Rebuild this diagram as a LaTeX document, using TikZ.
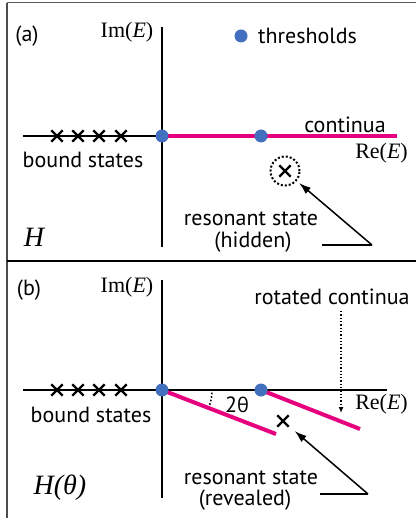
\documentclass[tikz,border=0pt]{standalone}
\usepackage{fontspec}
\newfontfamily\sansf{PT Sans}
\newfontfamily\grkf{Open Sans}
\newfontfamily\serf{Liberation Serif}
\usetikzlibrary{arrows.meta,shapes.misc}
\definecolor{cmag}{RGB}{230,0,126}
\definecolor{cblue}{RGB}{66,112,190}
\tikzset{
  axis/.style={line width=2.6pt,black},
  cont/.style={line width=4pt,cmag},
  thr/.style={circle,fill=cblue,inner sep=0pt,minimum size=13pt},
  xmark/.style={cross out,draw,line width=2.4pt,minimum size=9pt,inner sep=0pt},
  lab/.style={font=\sansf\fontsize{22}{24}\selectfont,inner sep=0pt},
  mlab/.style={font=\serf\fontsize{22}{24}\selectfont,inner sep=0pt},
  hlab/.style={font=\serf\itshape\fontsize{28}{30}\selectfont,inner sep=0pt},
  pointer/.style={line width=1.5pt,-{Latex[length=12pt,width=8pt]}},
}
\begin{document}
\begin{tikzpicture}[x=1pt,y=-1pt]
\useasboundingbox (0,0) rectangle (416,518);
% frame
\draw[gray!70!black,line width=1pt] (7,3) -- (416,3);
\draw[gray!60!black,line width=1.4pt] (7,3) -- (7,518);
\draw[black,line width=2pt] (7,261) -- (416,261);

% ---------------- panel (a)
\coordinate (aO) at (162,136);
\coordinate (aT) at (261,136);
\coordinate (aL) at (23,136);
\coordinate (aR) at (397,136);
\coordinate (aU) at (162,27);
\coordinate (aD) at (162,247);
\draw[axis] (aU) -- (aD);
\draw[axis] (aL) -- (aO);
\draw[cont] (aO) -- (aR);
\node[xmark] (ax1) at (57,136) {};
\node[xmark] (ax2) at (78,136) {};
\node[xmark] (ax3) at (99,136) {};
\node[xmark] (ax4) at (121,136) {};
\node[thr] (ad1) at (aO) {};
\node[thr] (ad2) at (aT) {};
\node[thr] (leg) at (241,36) {};
\node[lab,anchor=west] (legt) at (258,36) {thresholds};
\node[lab] (alab) at (27,36) {(a)};
\node[mlab] (aim) at (127,32) {Im(\textit{E})};
\node[mlab,anchor=east] (are) at (408,153) {Re(\textit{E})};
\node[lab] (acont) at (345,125) {continua};
\node[lab] (abound) at (83,160) {bound states};
\node[xmark] (ares) at (285,171) {};
\node[circle,draw,dotted,line width=2pt,minimum size=29pt,inner sep=0pt] (ahid) at (285,171) {};
\node[lab] (ars1) at (251,219) {resonant state};
\node[lab] (ars2) at (253,242) {(hidden)};
\coordinate (ah1) at (322,245);
\coordinate (ah2) at (372,245);
\draw[line width=1.5pt] (ah1) -- (ah2);
\draw[pointer,shorten >=3pt] (ah2) -- (ahid);
\node[hlab] (aH) at (34,237) {H};

% ---------------- panel (b)
\coordinate (bO) at (162,390);
\coordinate (bT) at (261,390);
\coordinate (bL) at (23,390);
\coordinate (bR) at (387,390);
\coordinate (bU) at (162,280);
\coordinate (bD) at (162,498);
\coordinate (bE1) at (276,434);
\coordinate (bE2) at (360,429);
\draw[axis] (bU) -- (bD);
\draw[axis] (bL) -- (bR);
\draw[cont] (bO) -- (bE1);
\draw[cont] (bT) -- (bE2);
\node[xmark] (bx1) at (57,390) {};
\node[xmark] (bx2) at (78,390) {};
\node[xmark] (bx3) at (99,390) {};
\node[xmark] (bx4) at (121,390) {};
\node[thr] (bd1) at (bO) {};
\node[thr] (bd2) at (bT) {};
\draw[dotted,line width=1.6pt] ([shift={(3:50)}]bO) arc[start angle=3,end angle=19,radius=50];
\node[lab] (bang) at (237,405) {2{\grkf\fontsize{20}{22}\selectfont θ}};
\node[lab] (blab) at (29,290) {(b)};
\node[mlab] (bim) at (127,287) {Im(\textit{E})};
\node[mlab,anchor=east] (bre) at (408,404) {Re(\textit{E})};
\node[lab] (brot) at (332,297) {rotated continua};
\coordinate (brotEnd) at (341,413);
\draw[dotted,line width=1.3pt,-{Latex[length=6pt,width=5pt]}] (brot.south -| brotEnd) ++(0,6) -- (brotEnd);
\node[lab] (bbound) at (91,415) {bound states};
\node[xmark] (bres) at (283,421) {};
\node[lab] (brs1) at (251,478) {resonant state};
\node[lab] (brs2) at (245,500) {(revealed)};
\coordinate (bh1) at (320,494);
\coordinate (bh2) at (368,494);
\draw[line width=1.5pt] (bh1) -- (bh2);
\draw[pointer,shorten >=8pt] (bh2) -- (bres);
\node[hlab] (bH) at (60,488) {H(θ)};
\end{tikzpicture}
\end{document}
